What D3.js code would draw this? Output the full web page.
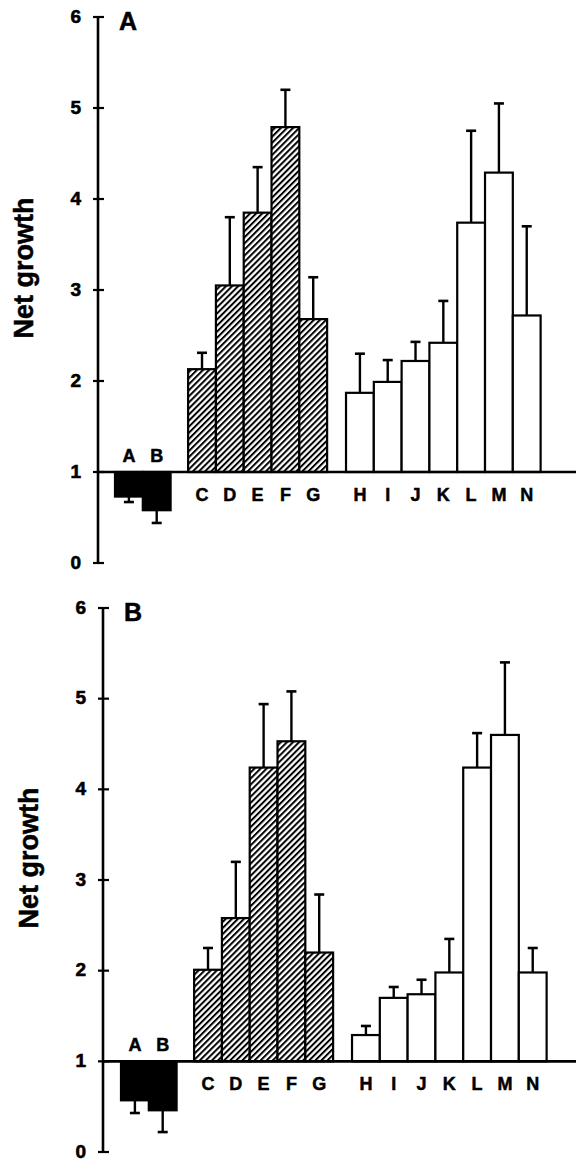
<!DOCTYPE html>
<html lang="en">
<head>
  <meta charset="UTF-8">
  <title>Net growth</title>
  <script src="https://d3js.org/d3.v7.min.js"></script>
  <style>
    body { margin: 0; background: #fff; }
    svg text { font-family: 'Liberation Sans', Arial, sans-serif; font-weight: bold; fill: #000; }
  </style>
</head>
<body>
  <div id="chart"></div>
  <script>
    // categories split by treatment group
    const blackCats = ["A", "B"];
    const hatchCats = ["C", "D", "E", "F", "G"];
    const openCats = ["H", "I", "J", "K", "L", "M", "N"];
    const yTicks = [0, 1, 2, 3, 4, 5, 6];

    // panel A: means and error (SEM), in category order A..N
    const meansA = [0.73, 0.58, 2.13, 3.05, 3.85, 4.79, 2.68, 1.87, 1.99, 2.22, 2.42, 3.74, 4.29, 2.72];
    const errA   = [0.06, 0.14, 0.18, 0.75, 0.50, 0.41, 0.46, 0.43, 0.24, 0.21, 0.46, 1.01, 0.76, 0.98];

    // panel B
    const meansB = [0.57, 0.46, 2.01, 2.58, 4.24, 4.53, 2.20, 1.29, 1.70, 1.74, 1.98, 4.24, 4.60, 1.98];
    const errB   = [0.14, 0.24, 0.24, 0.62, 0.70, 0.55, 0.64, 0.10, 0.12, 0.16, 0.37, 0.38, 0.80, 0.27];

    const W = 576, H = 1160;
    const svg = d3.select("#chart").append("svg")
      .attr("width", W).attr("height", H);

    const defs = svg.append("defs");
    const pat = defs.append("pattern")
      .attr("id", "hatch")
      .attr("patternUnits", "userSpaceOnUse")
      .attr("width", 4.3).attr("height", 4.3)
      .attr("patternTransform", "rotate(45)");
    pat.append("rect").attr("width", 4.3).attr("height", 4.3).attr("fill", "#fff");
    pat.append("line")
      .attr("x1", 1).attr("y1", 0).attr("x2", 1).attr("y2", 4.3)
      .attr("stroke", "#000").attr("stroke-width", 2);

    // slot position for each category (gaps between groups)
    const cats = blackCats.concat(hatchCats, openCats);
    function slotOf(i) {
      if (i < blackCats.length) return i;
      if (i < blackCats.length + hatchCats.length) return i + 0.63;
      return i + 1.31;
    }
    function fillOf(i) {
      if (i < blackCats.length) return "#000";
      if (i < blackCats.length + hatchCats.length) return "url(#hatch)";
      return "#fff";
    }

    function drawPanel(cfg) {
      const g = svg.append("g");
      const y = d3.scaleLinear().domain([0, 6]).range([cfg.y0, cfg.y6]);
      const x = d3.scaleLinear().domain([0, 1]).range([cfg.x0, cfg.x0 + 27.8]);
      const bw = x(1) - x(0);
      const base = y(1);

      const data = cats.map((c, i) => ({ cat: c, i: i, v: cfg.means[i], e: cfg.err[i] }));

      // bars
      g.selectAll("rect.bar").data(data).enter().append("rect")
        .attr("class", "bar")
        .attr("x", d => x(slotOf(d.i)))
        .attr("width", bw)
        .attr("y", d => Math.min(y(d.v), base))
        .attr("height", d => Math.abs(y(d.v) - base))
        .attr("fill", d => fillOf(d.i))
        .attr("stroke", "#000")
        .attr("stroke-width", 2.2);

      // error bars
      const eb = g.selectAll("g.err").data(data).enter().append("g").attr("class", "err");
      const tip = d => d.v >= 1 ? y(d.v + d.e) : y(d.v - d.e);
      const cx = d => x(slotOf(d.i) + 0.5);
      eb.append("line")
        .attr("x1", cx).attr("x2", cx)
        .attr("y1", d => y(d.v)).attr("y2", tip)
        .attr("stroke", "#000").attr("stroke-width", 2.4);
      eb.append("line")
        .attr("x1", d => cx(d) - 5).attr("x2", d => cx(d) + 5)
        .attr("y1", tip).attr("y2", tip)
        .attr("stroke", "#000").attr("stroke-width", 2.6);

      // baseline at 1
      g.append("line")
        .attr("x1", cfg.ax).attr("x2", W)
        .attr("y1", base).attr("y2", base)
        .attr("stroke", "#000").attr("stroke-width", 2.6);

      // y axis
      g.append("line")
        .attr("x1", cfg.ax).attr("x2", cfg.ax)
        .attr("y1", y(0)).attr("y2", y(6))
        .attr("stroke", "#000").attr("stroke-width", 2.6);
      g.selectAll("line.tick").data(yTicks).enter().append("line")
        .attr("x1", cfg.ax - 5).attr("x2", cfg.ax + 6)
        .attr("y1", d => y(d)).attr("y2", d => y(d))
        .attr("stroke", "#000").attr("stroke-width", 2.2);
      g.selectAll("text.tick").data(yTicks).enter().append("text")
        .attr("x", cfg.ax - 17).attr("y", d => y(d) + 5.5)
        .attr("text-anchor", "end")
        .attr("font-size", 19)
        .attr("stroke", "#000").attr("stroke-width", 0.6)
        .text(d => d);

      // category labels
      g.selectAll("text.cat").data(data).enter().append("text")
        .attr("x", d => cx(d))
        .attr("y", d => d.v < 1 ? base - 10 : base + 29)
        .attr("text-anchor", "middle")
        .attr("font-size", 18)
        .attr("stroke", "#000").attr("stroke-width", 0.5)
        .text(d => d.cat);

      // panel letter
      g.append("text")
        .attr("x", cfg.ax + 21).attr("y", y(6) + 13)
        .attr("font-size", 25)
        .attr("stroke", "#000").attr("stroke-width", 0.5)
        .text(cfg.label);

      // y axis title
      g.append("text")
        .attr("transform", `translate(${cfg.ax - 65},${(y(0) + y(6)) / 2 - 22}) rotate(-90)`)
        .attr("text-anchor", "middle")
        .attr("font-size", 27)
        .attr("stroke", "#000").attr("stroke-width", 0.5)
        .text("Net growth");
    }

    drawPanel({ label: "A", means: meansA, err: errA, ax: 98, x0: 115, y0: 563, y6: 17 });
    drawPanel({ label: "B", means: meansB, err: errB, ax: 103, x0: 121, y0: 1152, y6: 608 });
  </script>
</body>
</html>
